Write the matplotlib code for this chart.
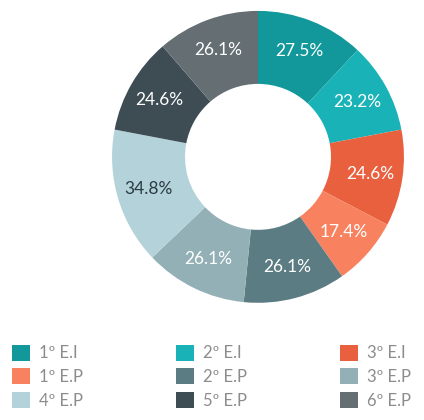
import matplotlib.pyplot as plt
import numpy as np
from matplotlib.patches import Patch

# data
labels = ["1º E.I", "2º E.I", "3º E.I", "1º E.P", "2º E.P", "3º E.P", "4º E.P", "5º E.P", "6º E.P"]
values = [27.5, 23.2, 24.6, 17.4, 26.1, 26.1, 34.8, 24.6, 26.1]
colors = ["#12979a", "#19b2b7", "#e9603f", "#f8825f", "#5b7c82",
          "#93b0b7", "#b3d2da", "#3e4c54", "#646e73"]

plt.rcParams['font.family'] = ['Lato', 'DejaVu Sans']

fig = plt.figure(figsize=(4.24, 4.2), dpi=100)
ax = fig.add_axes([0.264, 0.279, 0.689, 0.695])

wedges, texts = ax.pie(values, colors=colors, startangle=90, counterclock=False,
                       wedgeprops=dict(width=0.5, edgecolor="none"))
# percentage labels in the middle of the ring
for w, v in zip(wedges, values):
    ang = np.deg2rad((w.theta1 + w.theta2) / 2)
    x, y = 0.78 * np.cos(ang), 0.78 * np.sin(ang)
    col = "#2c3a42" if v == 34.8 else "white"
    ax.text(x, y, "%.1f%%" % v, ha="center", va="center", fontsize=12.5, color=col)
ax.set_xlim(-1, 1)
ax.set_ylim(-1, 1)

# legend, filled row by row
order = [0, 3, 6, 1, 4, 7, 2, 5, 8]
handles = [Patch(facecolor=colors[i], edgecolor="none", label=labels[i]) for i in order]
fig.legend(handles=handles, ncol=3, loc="upper left", bbox_to_anchor=(0.028, 0.179),
           frameon=False, prop=dict(size=12), labelcolor="#8c8c8c",
           handlelength=1.1, handleheight=1.1, handletextpad=0.5, columnspacing=5.6,
           labelspacing=0.42, borderaxespad=0, borderpad=0)

fig.savefig("out.png", dpi=100)
